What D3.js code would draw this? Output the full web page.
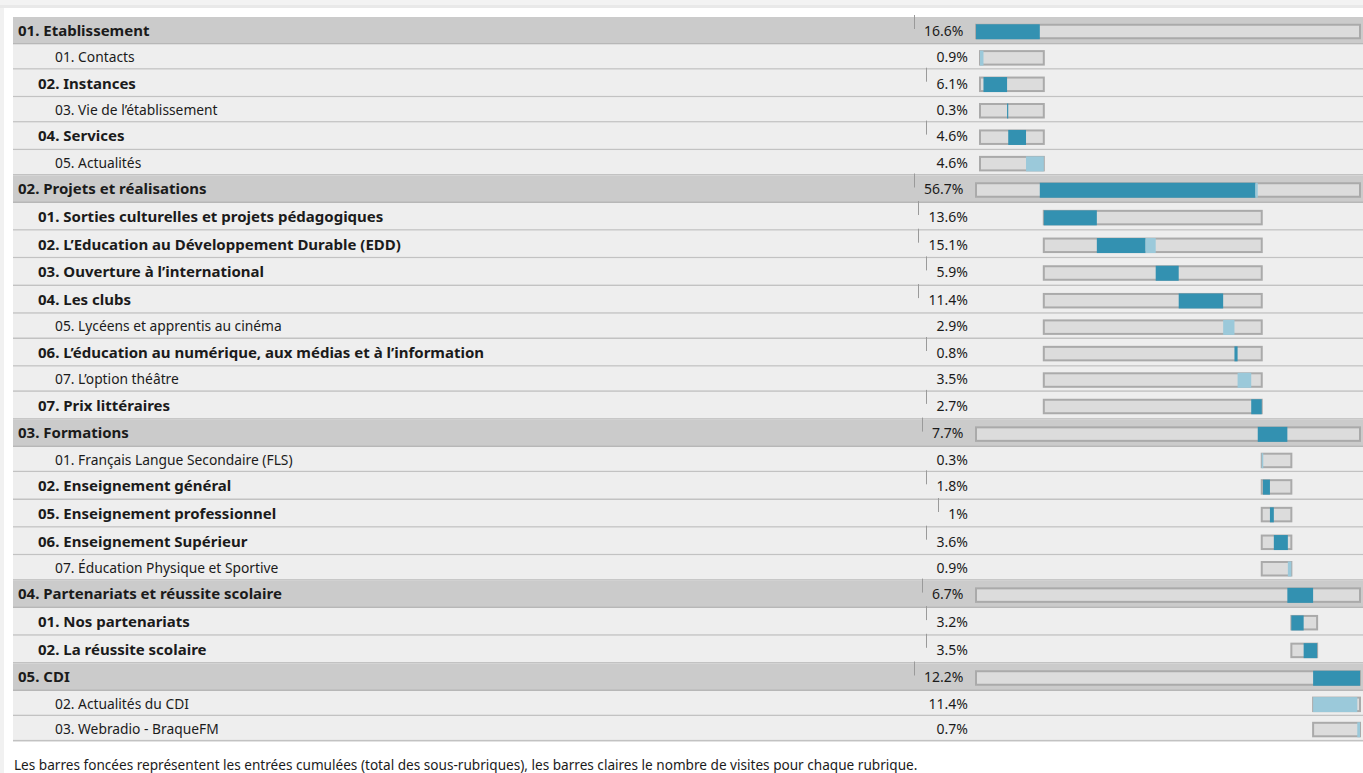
<!DOCTYPE html>
<html>
<head>
<meta charset="utf-8">
<script src="https://cdn.jsdelivr.net/npm/d3@7"></script>
<style>
body { margin: 0; background: #fff; overflow: hidden; }
svg { display: block; font-family: "Noto Sans", "DejaVu Sans", sans-serif; }
</style>
</head>
<body>
<svg id="chart"></svg>
<script>
// rubriques, in display order
var names = [
	"01. Etablissement",
	"01. Contacts",
	"02. Instances",
	"03. Vie de l\u2019\u00e9tablissement",
	"04. Services",
	"05. Actualit\u00e9s",
	"02. Projets et r\u00e9alisations",
	"01. Sorties culturelles et projets p\u00e9dagogiques",
	"02. L\u2019Education au D\u00e9veloppement Durable (EDD)",
	"03. Ouverture \u00e0 l\u2019international",
	"04. Les clubs",
	"05. Lyc\u00e9ens et apprentis au cin\u00e9ma",
	"06. L\u2019\u00e9ducation au num\u00e9rique, aux m\u00e9dias et \u00e0 l\u2019information",
	"07. L\u2019option th\u00e9\u00e2tre",
	"07. Prix litt\u00e9raires",
	"03. Formations",
	"01. Fran\u00e7ais Langue Secondaire (FLS)",
	"02. Enseignement g\u00e9n\u00e9ral",
	"05. Enseignement professionnel",
	"06. Enseignement Sup\u00e9rieur",
	"07. \u00c9ducation Physique et Sportive",
	"04. Partenariats et r\u00e9ussite scolaire",
	"01. Nos partenariats",
	"02. La r\u00e9ussite scolaire",
	"05. CDI",
	"02. Actualit\u00e9s du CDI",
	"03. Webradio - BraqueFM"
];
// 0 = rubrique, 1 = sous-rubrique with children, 2 = sous-rubrique without
var kinds = [0,2,1,2,1,2, 0,1,1,1,1,2,1,2,1, 0,2,1,1,1,2, 0,1,1, 0,2,2];
// share of entries (%), as printed
var pcts = [16.6,0.9,6.1,0.3,4.6,4.6, 56.7,13.6,15.1,5.9,11.4,2.9,0.8,3.5,2.7, 7.7,0.3,1.8,1,3.6,0.9, 6.7,3.2,3.5, 12.2,11.4,0.7];
// visits of the rubrique itself (light part of the bar)
var owns = [0,0.9,0,0,0,4.6, 0.6,0,2.6,0,0,2.9,0,3.5,0, 0,0.3,0,0,0,0.9, 0,0,0, 0,11.4,0.7];
var labelPct = ["16.6%","0.9%","6.1%","0.3%","4.6%","4.6%","56.7%","13.6%","15.1%","5.9%","11.4%","2.9%","0.8%","3.5%","2.7%","7.7%","0.3%","1.8%","1%","3.6%","0.9%","6.7%","3.2%","3.5%","12.2%","11.4%","0.7%"];
var note = "Les barres fonc\u00e9es repr\u00e9sentent les entr\u00e9es cumul\u00e9es (total des sous-rubriques), les barres claires le nombre de visites pour chaque rubrique.";

var W = 1363, H = 773;
var dark = "#3391b1", light = "#9bc9da";
var rowH = [27.5, 27.7, 25.2];
var textX = [18, 38, 55];
var fontSize = [15, 15, 13.8];

function init(){
	var svg = d3.select("#chart").attr("width", W).attr("height", H);

	// page background
	svg.append("rect").attr("x",0).attr("y",0).attr("width",W).attr("height",5).attr("fill","#f3f3f3");
	svg.append("rect").attr("x",0).attr("y",5).attr("width",W).attr("height",3).attr("fill","#e9e9e9");
	svg.append("rect").attr("x",0).attr("y",8).attr("width",4).attr("height",H).attr("fill","#f1f1f1");

	var total = d3.sum(pcts.filter(function(p,i){ return kinds[i]==0; }));
	var x = d3.scaleLinear().domain([0, total]).range([976, 1360]);

	// rows and where each bar starts along the cumulative scale
	var rows = [];
	var y = 17, topStart = 0, parent = null;
	for(var i = 0; i<names.length; i++){
		var r = {name: names[i], kind: kinds[i], pct: pcts[i], own: owns[i], label: labelPct[i], y: y, h: rowH[kinds[i]]};
		if (kinds[i]==0){
			r.start = topStart;
			topStart += pcts[i];
			r.sub = [];
			parent = r;
			r.f0 = x(0); r.f1 = x(total);
			r.sc = x;
		}
		else{
			parent.sub.push(r);
		}
		rows.push(r);
		y += r.h;
	}
	// sub-rubriques share the parent's span, shifted a few px right
	rows.forEach(function(p){
		if (p.kind!=0) return;
		var off = Math.min(4, 1360 - x(p.start + p.pct));
		var sum = d3.sum(p.sub, function(s){ return s.pct; });
		var sc = d3.scaleLinear().domain([0, sum]).range([x(p.start) + off, x(p.start + p.pct) + off]);
		var c = 0;
		p.sub.forEach(function(s){
			s.start = c;
			c += s.pct;
			s.sc = sc;
			s.f0 = sc(0); s.f1 = sc(sum);
		});
	});

	var g = svg.selectAll("g.row").data(rows).enter().append("g")
		.attr("class","row")
		.attr("transform", function(d){ return "translate(0," + d.y + ")"; });

	g.append("rect")
		.attr("x", 13).attr("y", 0)
		.attr("width", W).attr("height", function(d){ return d.h; })
		.attr("fill", function(d){ return d.kind==0 ? "#cbcbcb" : "#eeeeee"; });
	g.append("rect")
		.attr("x", 13).attr("y", function(d){ return d.h - 1.5; })
		.attr("width", W).attr("height", 1.5)
		.attr("fill", function(d){ return d.kind==0 ? "#b7b7b7" : "#c2c2c2"; });

	g.append("text")
		.attr("x", function(d){ return textX[d.kind]; })
		.attr("y", function(d){ return d.h/2 + 5; })
		.attr("font-size", function(d){ return fontSize[d.kind]; })
		.attr("font-weight", function(d){ return d.kind==2 ? "normal" : "bold"; })
		.attr("fill", "#1b1b1b")
		.text(function(d){ return d.name; });

	var pt = g.append("text")
		.attr("x", function(d){ return d.kind==0 ? 963.5 : 968; })
		.attr("y", function(d){ return d.h/2 + 5; })
		.attr("text-anchor", "end")
		.attr("font-size", 14)
		.attr("fill", "#1b1b1b")
		.text(function(d){ return d.label; });

	// little marks left of the percentages of rubriques with children
	pt.each(function(d){
		if (d.kind==2) return;
		var tx = (d.kind==0 ? 963.5 : 968) - this.getComputedTextLength() - 10.5;
		d3.select(this.parentNode).append("line")
			.attr("x1", Math.round(tx)+0.5).attr("x2", Math.round(tx)+0.5)
			.attr("y1", -2).attr("y2", 12)
			.attr("stroke", "#9a9a9a").attr("stroke-width", 1);
	});

	// frames
	g.append("rect")
		.attr("x", function(d){ return d.f0; })
		.attr("y", function(d){ return d.h/2 - 6; })
		.attr("width", function(d){ return d.f1 - d.f0; })
		.attr("height", 13.5)
		.attr("fill", "#dcdcdc")
		.attr("stroke", "#aaaaaa")
		.attr("stroke-width", 2);

	// dark part: cumulated entries of the sub-rubriques
	g.append("rect")
		.attr("x", function(d){ return d.sc(d.start); })
		.attr("y", function(d){ return d.h/2 - 6.5; })
		.attr("width", function(d){ var v = d.pct - d.own; return v>0 ? Math.max(1, d.sc(d.start + v) - d.sc(d.start)) : 0; })
		.attr("height", 15)
		.attr("fill", dark);

	// light part: visits of the rubrique itself
	g.append("rect")
		.attr("x", function(d){ return d.sc(d.start + d.pct - d.own); })
		.attr("y", function(d){ return d.h/2 - 6.5; })
		.attr("width", function(d){ return d.own>0 ? Math.max(1.5, d.sc(d.start + d.pct) - d.sc(d.start + d.pct - d.own)) : 0; })
		.attr("height", 15)
		.attr("fill", light);

	svg.append("text")
		.attr("x", 14).attr("y", 769.5)
		.attr("font-size", 13.6)
		.attr("fill", "#1b1b1b")
		.text(note);
}

init();
</script>
</body>
</html>
